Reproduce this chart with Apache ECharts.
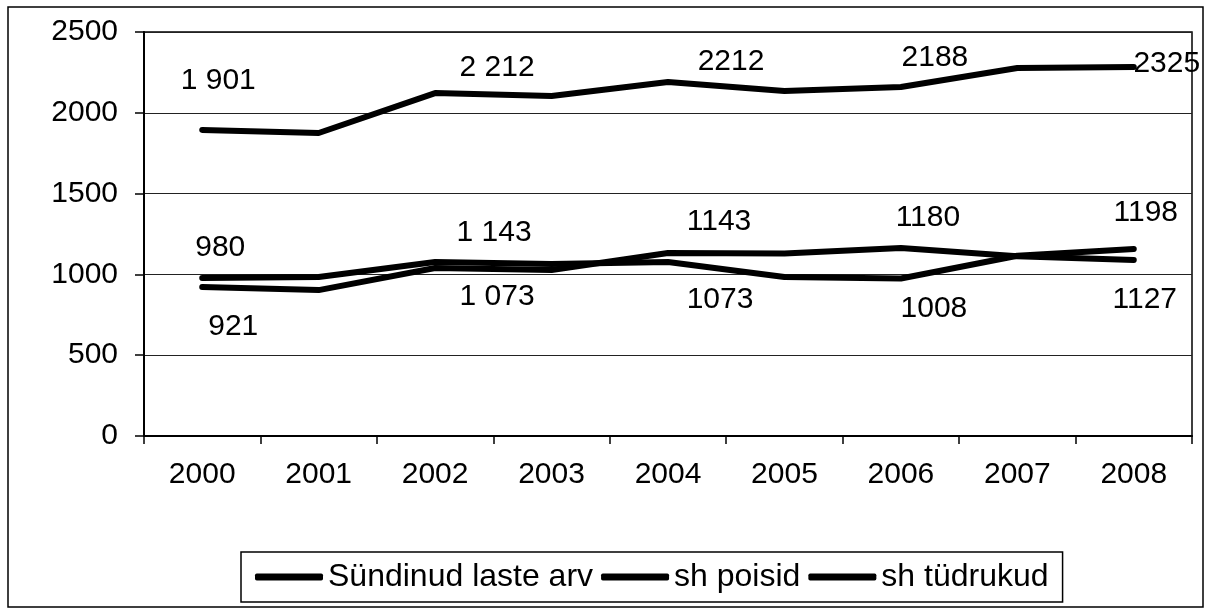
<!DOCTYPE html>
<html>
<head>
<meta charset="utf-8">
<script src="https://cdn.jsdelivr.net/npm/echarts@6/dist/echarts.min.js"></script>
<style>
  html, body { margin: 0; padding: 0; background: #fff; }
  #chart { width: 1212px; height: 611px; }
</style>
</head>
<body>
<div id="chart"></div>
<script>
var years = ['2000', '2001', '2002', '2003', '2004', '2005', '2006', '2007', '2008'];
var totalBirths = [1894, 1875, 2122, 2104, 2190, 2135, 2160, 2277, 2283];
var boys = [978, 984, 1077, 1064, 1077, 984, 975, 1115, 1157];
var girls = [922, 903, 1040, 1027, 1133, 1130, 1163, 1112, 1089];

// texts written on the chart (not always equal to the plotted points)
var totalLabels = ['1 901', '', '2 212', '', '2212', '', '2188', '', '2325'];
var boysLabels = ['980', '', '1 143', '', '1073', '', '1008', '', '1198'];
var girlsLabels = ['921', '', '1 073', '', '1143', '', '1180', '', '1127'];

var seriesNames = ['Sündinud laste arv', 'sh poisid', 'sh tüdrukud'];

// where each text sits relative to its point
var totalOffsets = [[16, -49], null, [62, -25], null, [63, -20], null, [34, -29], null, [33, -3]];
var boysOffsets = [[18, -30], null, [59, -29], null, [52, 38], null, [33, 30], null, [12, -36]];
var girlsOffsets = [[31, 40], null, [62, 29], null, [51, -31], null, [27, -30], null, [11, 40]];

var FONT = '"Liberation Sans", Arial, sans-serif';

function withLabels(values, labels, offsets) {
  return values.map(function (v, i) {
    if (!labels[i]) return v;
    return {
      value: v,
      label: {
        show: true,
        position: 'inside',
        formatter: labels[i],
        offset: offsets[i],
        color: '#000',
        fontSize: 30,
        fontFamily: FONT
      }
    };
  });
}

function lineSeries(name, values, labels, offsets) {
  return {
    name: name,
    type: 'line',
    data: withLabels(values, labels, offsets),
    symbol: 'circle',
    symbolSize: 1,
    itemStyle: { color: '#000' },
    lineStyle: { color: '#000', width: 6, cap: 'round', join: 'round' },
    emphasis: { disabled: true },
    z: 3
  };
}

var chart = echarts.init(document.getElementById('chart'));

var option = {
  animation: false,
  backgroundColor: '#fff',
  graphic: [{
    type: 'rect',
    shape: { x: 8, y: 7, width: 1195, height: 600 },
    style: { fill: 'none', stroke: '#000', lineWidth: 1.5 },
    silent: true,
    z: -1
  }],
  grid: {
    left: 144,
    right: 20,
    top: 32,
    bottom: 175,
    show: true,
    borderColor: '#000',
    borderWidth: 1.5
  },
  legend: {
    data: seriesNames,
    left: 241,
    top: 552,
    padding: [9, 14],
    borderColor: '#000',
    borderWidth: 1.5,
    icon: 'roundRect',
    itemWidth: 68,
    itemHeight: 7,
    itemGap: 8,
    textStyle: { color: '#000', fontSize: 32, fontFamily: FONT }
  },
  xAxis: {
    type: 'category',
    data: years,
    boundaryGap: true,
    axisLine: { lineStyle: { color: '#000', width: 2 } },
    axisTick: { show: true, length: 8, lineStyle: { color: '#000', width: 1.5 } },
    axisLabel: { color: '#000', fontSize: 30, fontFamily: FONT, margin: 24 }
  },
  yAxis: {
    type: 'value',
    min: 0,
    max: 2500,
    interval: 500,
    axisLine: { show: true, lineStyle: { color: '#000', width: 2 } },
    axisTick: { show: true, length: 9, lineStyle: { color: '#000', width: 1.5 } },
    axisLabel: {
      color: '#000', fontSize: 30, fontFamily: FONT, margin: 26,
      formatter: function (v) { return String(v); }
    },
    splitLine: { lineStyle: { color: '#222', width: 1 } }
  },
  series: [
    lineSeries(seriesNames[0], totalBirths, totalLabels, totalOffsets),
    lineSeries(seriesNames[1], boys, boysLabels, boysOffsets),
    lineSeries(seriesNames[2], girls, girlsLabels, girlsOffsets)
  ]
};

chart.setOption(option);
</script>
</body>
</html>
